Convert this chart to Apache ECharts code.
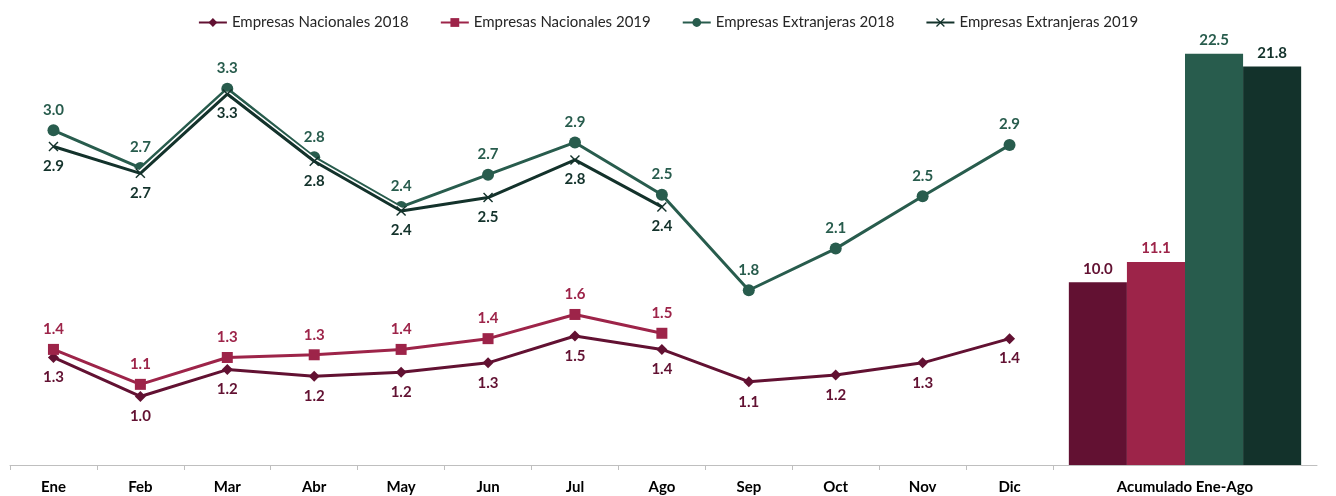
<!DOCTYPE html>
<html>
<head>
<meta charset="utf-8">
<title>Empresas Nacionales y Extranjeras</title>
<script src="https://cdn.jsdelivr.net/npm/echarts@6/dist/echarts.min.js"></script>
<style>
  html, body { margin: 0; padding: 0; background: #fff; }
  #chart { width: 1336px; height: 496px; }
</style>
</head>
<body>
<div id="chart"></div>
<script>
// datos
var meses = ['Ene', 'Feb', 'Mar', 'Abr', 'May', 'Jun', 'Jul', 'Ago', 'Sep', 'Oct', 'Nov', 'Dic'];
var nacionales2018 = [1.30, 1.01, 1.21, 1.16, 1.19, 1.26, 1.46, 1.36, 1.12, 1.17, 1.26, 1.44];
var nacionales2019 = [1.36, 1.10, 1.30, 1.32, 1.36, 1.44, 1.62, 1.48];
var extranjeras2018 = [2.99, 2.71, 3.30, 2.79, 2.42, 2.66, 2.90, 2.51, 1.80, 2.11, 2.50, 2.88];
var extranjeras2019 = [2.87, 2.67, 3.26, 2.76, 2.39, 2.49, 2.77, 2.42];
var acumuladoCat = ['Acumulado Ene-Ago'];
var acumulado = [10.0, 11.1, 22.5, 21.8];

var nombres = ['Empresas Nacionales 2018', 'Empresas Nacionales 2019', 'Empresas Extranjeras 2018', 'Empresas Extranjeras 2019'];
var colores = ['#621132', '#9D2449', '#285C4D', '#13322B'];
var simbolos = ['diamond', 'rect', 'circle',
  'path://M0,1L1,0L5,4L9,0L10,1L6,5L10,9L9,10L5,6L1,10L0,9L4,5Z'];
var tamanos = [11, 11, 12, 10];
var posiciones = ['bottom', 'top', 'top', 'bottom'];
var lineas = [nacionales2018, nacionales2019, extranjeras2018, extranjeras2019];

var fuente = 'Lato, "Noto Sans", sans-serif';

var chart = echarts.init(document.getElementById('chart'));

var series = [];
// lineas mensuales, con un borde blanco debajo de cada una
lineas.forEach(function (datos, i) {
  series.push({
    type: 'line',
    xAxisIndex: 0,
    yAxisIndex: 0,
    data: datos,
    symbol: 'none',
    silent: true,
    z: 2 + i * 2,
    lineStyle: { color: '#fff', width: 6 }
  });
  series.push({
    name: nombres[i],
    type: 'line',
    xAxisIndex: 0,
    yAxisIndex: 0,
    data: datos,
    symbol: simbolos[i],
    symbolSize: tamanos[i],
    z: 3 + i * 2,
    itemStyle: { color: colores[i] },
    lineStyle: { color: colores[i], width: 3 },
    label: {
      show: true,
      position: posiciones[i],
      distance: 7,
      color: colores[i],
      fontFamily: fuente,
      fontWeight: 'bold',
      fontSize: 15,
      formatter: function (p) { return p.value.toFixed(1); }
    }
  });
});

// barras del acumulado
acumulado.forEach(function (v, i) {
  series.push({
    name: 'Acumulado ' + nombres[i],
    type: 'bar',
    xAxisIndex: 1,
    yAxisIndex: 1,
    data: [v],
    barGap: 0,
    barCategoryGap: '12%',
    itemStyle: { color: colores[i] },
    label: {
      show: true,
      position: 'top',
      distance: 6,
      color: colores[i],
      fontFamily: fuente,
      fontWeight: 'bold',
      fontSize: 15,
      formatter: function (p) { return p.value.toFixed(1); }
    }
  });
});

var option = {
  animation: false,
  legend: {
    data: nombres,
    top: 10,
    left: 'center',
    itemWidth: 28,
    itemHeight: 11,
    itemGap: 31,
    textStyle: { fontFamily: fuente, fontSize: 15, color: '#262626' }
  },
  grid: [
    { left: 10, right: 283, top: 8, bottom: 31 },
    { left: 1053, right: 19, top: 8, bottom: 31 }
  ],
  xAxis: [
    {
      type: 'category',
      gridIndex: 0,
      data: meses,
      axisLine: { lineStyle: { color: '#bfbfbf', width: 1 } },
      axisTick: { show: true, length: 5, lineStyle: { color: '#bfbfbf' } },
      axisLabel: { color: '#000', fontFamily: fuente, fontWeight: 'bold', fontSize: 15, margin: 15 }
    },
    {
      type: 'category',
      gridIndex: 1,
      data: acumuladoCat,
      axisLine: { lineStyle: { color: '#bfbfbf', width: 1 } },
      axisTick: { show: false },
      axisLabel: { color: '#000', fontFamily: fuente, fontWeight: 'bold', fontSize: 15, margin: 15 }
    }
  ],
  yAxis: [
    { type: 'value', gridIndex: 0, min: 0.5, max: 3.9, show: false },
    { type: 'value', gridIndex: 1, min: 0, max: 25, show: false }
  ],
  series: series
};

chart.setOption(option);
</script>
</body>
</html>
